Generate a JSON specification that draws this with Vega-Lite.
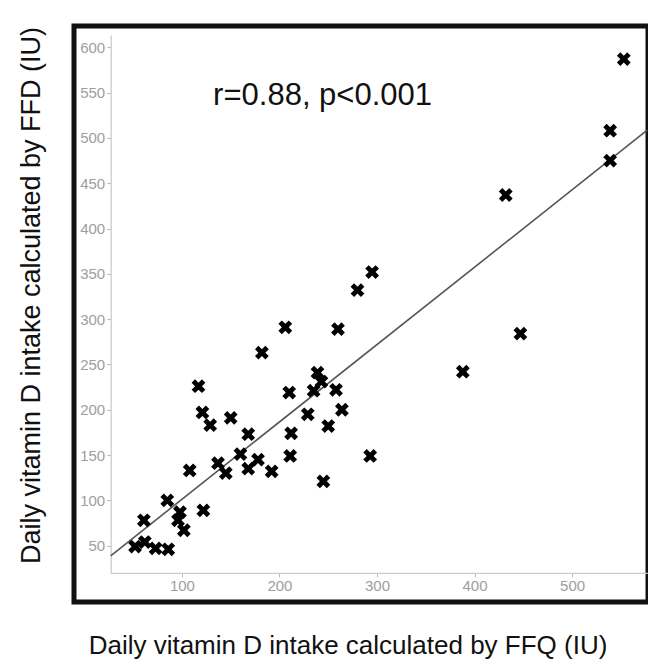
{
  "$schema": "https://vega.github.io/schema/vega-lite/v6.json",
  "width": 574,
  "height": 576,
  "autosize": {"type": "none"},
  "padding": {"left": 74, "top": 26, "right": 0, "bottom": 58},
  "background": "white",
  "config": {
    "view": {"stroke": "#111111", "strokeWidth": 5, "fill": "white"},
    "font": "Liberation Sans"
  },
  "datasets": {
    "points": [
      {"ffq": 52, "ffd": 49}, {"ffq": 62, "ffd": 54}, {"ffq": 61, "ffd": 78}, {"ffq": 73, "ffd": 47},
      {"ffq": 86, "ffd": 46}, {"ffq": 85, "ffd": 100}, {"ffq": 98, "ffd": 87}, {"ffq": 96, "ffd": 78},
      {"ffq": 102, "ffd": 67}, {"ffq": 122, "ffd": 89}, {"ffq": 108, "ffd": 133}, {"ffq": 117, "ffd": 226},
      {"ffq": 121, "ffd": 197}, {"ffq": 129, "ffd": 183}, {"ffq": 150, "ffd": 191}, {"ffq": 137, "ffd": 141},
      {"ffq": 145, "ffd": 130}, {"ffq": 160, "ffd": 151}, {"ffq": 168, "ffd": 173}, {"ffq": 168, "ffd": 135},
      {"ffq": 178, "ffd": 145}, {"ffq": 192, "ffd": 132}, {"ffq": 182, "ffd": 263}, {"ffq": 206, "ffd": 291},
      {"ffq": 210, "ffd": 219}, {"ffq": 212, "ffd": 174}, {"ffq": 211, "ffd": 149}, {"ffq": 229, "ffd": 195},
      {"ffq": 235, "ffd": 221}, {"ffq": 239, "ffd": 241}, {"ffq": 243, "ffd": 231}, {"ffq": 245, "ffd": 121},
      {"ffq": 250, "ffd": 182}, {"ffq": 258, "ffd": 222}, {"ffq": 260, "ffd": 289}, {"ffq": 264, "ffd": 200},
      {"ffq": 280, "ffd": 332}, {"ffq": 295, "ffd": 352}, {"ffq": 293, "ffd": 149}, {"ffq": 388, "ffd": 242},
      {"ffq": 432, "ffd": 437}, {"ffq": 447, "ffd": 284}, {"ffq": 539, "ffd": 475}, {"ffq": 539, "ffd": 508},
      {"ffq": 553, "ffd": 587}
    ],
    "fit": [
      {"ffq": 27, "ffd": 38.8},
      {"ffq": 577, "ffd": 508.5}
    ],
    "note": [{"label": "r=0.88, p<0.001"}]
  },
  "layer": [
    {
      "data": {"name": "fit"},
      "mark": {"type": "line", "color": "#555555", "strokeWidth": 1.6},
      "encoding": {
        "x": {
          "field": "ffq",
          "type": "quantitative",
          "scale": {"domain": [27, 577], "range": [36.7, 573.2], "nice": false, "zero": false},
          "axis": {
            "values": [100, 200, 300, 400, 500],
            "offset": -29.2,
            "grid": false,
            "domainColor": "#cccccc",
            "domainWidth": 1.3,
            "tickColor": "#bbbbbb",
            "tickSize": 4,
            "labelColor": "#9e9e9e",
            "labelFontSize": 15,
            "labelPadding": 2,
            "title": "Daily vitamin D intake calculated by FFQ (IU)",
            "titleFontSize": 26,
            "titleFontWeight": "normal",
            "titleColor": "#111111",
            "titleX": 273.5,
            "titleY": 72.5,
            "titleBaseline": "middle",
            "titleAlign": "center"
          }
        },
        "y": {
          "field": "ffd",
          "type": "quantitative",
          "scale": {"domain": [19.5, 613.6], "range": [547.3, 9], "nice": false, "zero": false},
          "axis": {
            "values": [50, 100, 150, 200, 250, 300, 350, 400, 450, 500, 550, 600],
            "offset": -36.7,
            "grid": false,
            "domainColor": "#cccccc",
            "domainWidth": 1.3,
            "tickColor": "#bbbbbb",
            "tickSize": 4,
            "labelColor": "#9e9e9e",
            "labelFontSize": 15,
            "labelPadding": 2,
            "title": "Daily vitamin D intake calculated by FFD (IU)",
            "titleFontSize": 27,
            "titleFontWeight": "normal",
            "titleColor": "#111111",
            "titleX": -79.7,
            "titleY": 269,
            "titleBaseline": "middle",
            "titleAlign": "center"
          }
        }
      }
    },
    {
      "data": {"name": "points"},
      "mark": {
        "type": "point",
        "shape": "M-1,-0.5L-0.5,-1L0,-0.5L0.5,-1L1,-0.5L0.5,0L1,0.5L0.5,1L0,0.5L-0.5,1L-1,0.5L-0.5,0Z",
        "filled": true,
        "color": "#000000",
        "opacity": 1,
        "size": 190
      },
      "encoding": {
        "x": {"field": "ffq", "type": "quantitative"},
        "y": {"field": "ffd", "type": "quantitative"}
      }
    },
    {
      "data": {"name": "note"},
      "mark": {"type": "text", "align": "left", "baseline": "alphabetic", "fontSize": 31, "color": "#111111"},
      "encoding": {
        "x": {"datum": 132, "type": "quantitative"},
        "y": {"datum": 536, "type": "quantitative"},
        "text": {"field": "label", "type": "nominal"}
      }
    }
  ]
}
